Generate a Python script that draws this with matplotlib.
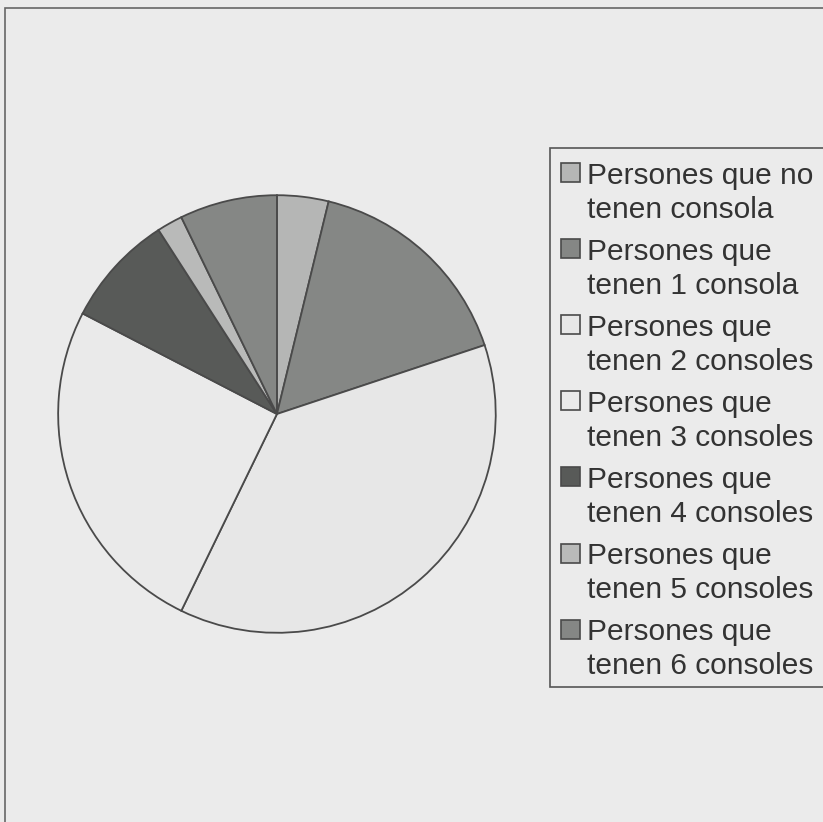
import matplotlib.pyplot as plt
from matplotlib.patches import Rectangle

# share of people by number of consoles owned (percent)
labels = [
    'Persones que no\ntenen consola',
    'Persones que\ntenen 1 consola',
    'Persones que\ntenen 2 consoles',
    'Persones que\ntenen 3 consoles',
    'Persones que\ntenen 4 consoles',
    'Persones que\ntenen 5 consoles',
    'Persones que\ntenen 6 consoles',
]
values = [3.8, 16.1, 37.3, 25.4, 8.3, 1.9, 7.2]
colors = ['#b5b6b5', '#858785', '#e7e7e7', '#eaeaea', '#585a58', '#b9bab9', '#858785']

BG = '#ebebeb'
EDGE = '#4a4a4a'
W, H = 823, 822

plt.rcParams['font.family'] = ['Liberation Sans', 'DejaVu Sans']

fig = plt.figure(figsize=(W / 100, H / 100), dpi=100, facecolor=BG)


def px(x, y):
    """pixel position (from top-left) -> figure fraction"""
    return x / W, 1 - y / H


# outer frame of the scanned figure
fig.patches.append(Rectangle(px(5, 830), 1.0, (830 - 8) / H,
                             transform=fig.transFigure, fill=False,
                             edgecolor='#666666', linewidth=1.2))

ax = fig.add_axes([0.068, 0.2275, 0.537, 0.5377])
ax.set_facecolor(BG)
ax.pie(values, colors=colors, startangle=90, counterclock=False, radius=1,
       wedgeprops=dict(edgecolor=EDGE, linewidth=1.3))
ax.set_xlim(-1.01, 1.01)
ax.set_ylim(-1.01, 1.01)
ax.set_aspect('equal')
ax.axis('off')

# legend box, drawn by hand so the swatch sits on the first text line
fig.patches.append(Rectangle(px(550, 687), (835 - 550) / W, (687 - 148) / H,
                             transform=fig.transFigure, facecolor=BG,
                             edgecolor='#555555', linewidth=1.2))
for i, (lab, c) in enumerate(zip(labels, colors)):
    y0 = 173 + 76 * i
    fig.patches.append(Rectangle(px(561, y0 + 9.5), 19 / W, 19 / H,
                                 transform=fig.transFigure, facecolor=c,
                                 edgecolor=EDGE, linewidth=1.2))
    first, second = lab.split('\n')
    fig.text(*px(587, y0), first, fontsize=21.5, color='#333333', va='center_baseline')
    fig.text(*px(587, y0 + 34), second, fontsize=21.5, color='#333333', va='center_baseline')

fig.savefig('out.png', dpi=100, facecolor=BG)
